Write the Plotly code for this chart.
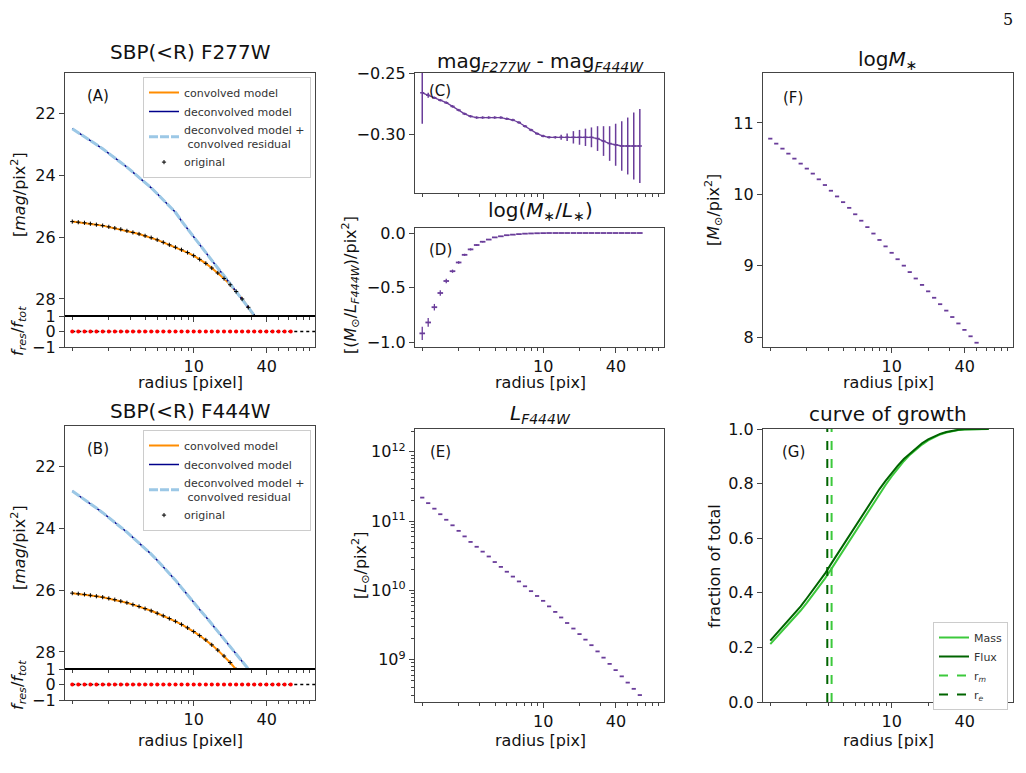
import plotly.graph_objects as go

# ---------------- data ----------------
radius = [1.0, 1.12, 1.26, 1.41, 1.58, 1.78, 2.0, 2.24, 2.51, 2.82, 3.16, 3.55, 3.98, 4.47, 5.01,
          5.62, 6.31, 7.08, 7.94, 8.91, 10.0, 11.2, 12.6, 14.1, 15.8, 17.8, 20.0, 22.4, 25.1, 28.2,
          31.6, 35.5, 39.8, 44.7, 50.1, 56.2, 63.1]

a_conv = [25.50, 25.52, 25.54, 25.57, 25.60, 25.63, 25.67, 25.71, 25.75, 25.80, 25.85, 25.90, 25.96,
          26.02, 26.09, 26.17, 26.25, 26.33, 26.41, 26.50, 26.60, 26.72, 26.85, 27.00, 27.16, 27.34,
          27.54, 27.76, 28.00, 28.27, 28.56, 28.87, 29.20, 29.55, 29.92, 30.30, 30.70]
a_deconv = [22.50, 22.62, 22.75, 22.88, 23.01, 23.15, 23.29, 23.44, 23.59, 23.74, 23.90, 24.06, 24.23,
            24.41, 24.60, 24.80, 25.00, 25.20, 25.48, 25.74, 26.00, 26.25, 26.50, 26.75, 27.00, 27.25,
            27.50, 27.75, 28.00, 28.25, 28.50, 28.75, 29.00, 29.30, 29.60, 29.90, 30.20]
b_conv = [26.10, 26.12, 26.14, 26.17, 26.20, 26.23, 26.27, 26.31, 26.36, 26.41, 26.47, 26.53, 26.60,
          26.67, 26.75, 26.83, 26.92, 27.01, 27.11, 27.22, 27.34, 27.47, 27.61, 27.77, 27.94, 28.13,
          28.34, 28.57, 28.82, 29.10, 29.40, 29.70, 30.00, 30.30, 30.60, 30.90, 31.20]
b_deconv = [22.80, 22.93, 23.07, 23.21, 23.35, 23.50, 23.65, 23.81, 23.97, 24.13, 24.30, 24.47, 24.65,
            24.84, 25.04, 25.25, 25.46, 25.68, 25.92, 26.17, 26.40, 26.63, 26.86, 27.09, 27.32, 27.55,
            27.78, 28.02, 28.26, 28.50, 28.75, 29.00, 29.25, 29.50, 29.75, 30.00, 30.25]
residual = [0.0] * 37

color_diff = [-0.266, -0.268, -0.270, -0.272, -0.274, -0.277, -0.280, -0.283, -0.285, -0.286, -0.286,
              -0.286, -0.286, -0.286, -0.287, -0.288, -0.290, -0.293, -0.296, -0.299, -0.301, -0.302,
              -0.302, -0.302, -0.302, -0.302, -0.302, -0.302, -0.302, -0.303, -0.305, -0.307, -0.308,
              -0.309, -0.309, -0.309, -0.309]
color_err = [0.025, 0.002, 0.001, 0.001, 0.001, 0.001, 0.001, 0.001, 0.001, 0.001, 0.001, 0.001, 0.001,
             0.001, 0.001, 0.001, 0.001, 0.001, 0.001, 0.001, 0.001, 0.001, 0.001, 0.002, 0.003, 0.005,
             0.006, 0.007, 0.008, 0.010, 0.012, 0.014, 0.017, 0.020, 0.023, 0.027, 0.030]

log_ml = [-0.92, -0.82, -0.68, -0.55, -0.44, -0.35, -0.27, -0.20, -0.15, -0.11, -0.08, -0.06, -0.04,
          -0.03, -0.02, -0.015, -0.01, -0.006, -0.004, -0.002, -0.001, 0, 0, 0, 0, 0, 0, 0, 0, 0, 0,
          0, 0, 0, 0, 0, 0]
log_ml_err = [0.06, 0.04, 0.03, 0.025, 0.02, 0.015, 0.012, 0.01, 0.01, 0.008, 0.006, 0.005, 0.004,
              0.003, 0.002, 0.002, 0.001, 0.001, 0.001, 0.001, 0, 0, 0, 0, 0, 0, 0, 0, 0, 0, 0, 0, 0,
              0, 0, 0, 0]

log_lum = [11.34, 11.26, 11.18, 11.10, 11.02, 10.94, 10.86, 10.78, 10.70, 10.63, 10.56, 10.49, 10.41,
           10.34, 10.27, 10.20, 10.13, 10.06, 9.99, 9.92, 9.85, 9.77, 9.69, 9.61, 9.53, 9.45, 9.37,
           9.29, 9.21, 9.12, 9.03, 8.94, 8.85, 8.76, 8.67, 8.58, 8.49]

log_mass = [10.78, 10.71, 10.64, 10.57, 10.50, 10.43, 10.36, 10.29, 10.21, 10.13, 10.05, 9.97, 9.89,
            9.81, 9.72, 9.63, 9.54, 9.45, 9.36, 9.27, 9.18, 9.09, 9.00, 8.91, 8.82, 8.73, 8.64, 8.55,
            8.46, 8.37, 8.28, 8.19, 8.10, 8.01, 7.92, 7.83, 7.74]

cog_flux = [0.225, 0.25, 0.275, 0.30, 0.325, 0.35, 0.38, 0.41, 0.44, 0.47, 0.505, 0.54, 0.575, 0.61,
            0.645, 0.68, 0.715, 0.75, 0.78, 0.81, 0.84, 0.865, 0.89, 0.91, 0.93, 0.948, 0.962, 0.973,
            0.982, 0.989, 0.994, 0.997, 0.999, 1.0, 1.0, 1.0, 1.0]
cog_mass = [0.212, 0.236, 0.26, 0.285, 0.31, 0.335, 0.363, 0.392, 0.422, 0.452, 0.485, 0.52, 0.555,
            0.59, 0.625, 0.66, 0.695, 0.73, 0.762, 0.795, 0.826, 0.855, 0.882, 0.905, 0.925, 0.943,
            0.958, 0.97, 0.98, 0.987, 0.992, 0.996, 0.998, 0.999, 1.0, 1.0, 1.0]
r_m = 3.2
r_e = 2.95

x_ticks = [10, 40]
x_minor = [1, 2, 3, 4, 5, 6, 7, 8, 9, 20, 30, 50, 60, 70, 80, 90]
x_range_log = [-0.06, 2.0]
lum_ticks = [1e9, 1e10, 1e11, 1e12]
lum_minor = [3e8, 4e8, 5e8, 6e8, 7e8, 8e8, 9e8, 2e9, 3e9, 4e9, 5e9, 6e9, 7e9, 8e9, 9e9,
             2e10, 3e10, 4e10, 5e10, 6e10, 7e10, 8e10, 9e10, 2e11, 3e11, 4e11, 5e11, 6e11, 7e11,
             8e11, 9e11, 2e12]

# ---------------- layout helpers ----------------
W, H = 1026, 773
OX, OY = 8, 8   # page body offset of the rendered figure
FONT = "DejaVu Sans"
PURPLE = "#6a3d9a"
fig = go.Figure()

def dom_x(a, b): return [(a - OX) / W, (b - OX) / W]
def dom_y(top, bot): return [1 - (bot - OY) / H, 1 - (top - OY) / H]

axes = {
    1: ((65, 315), (73, 316)),    # A main
    2: ((65, 315), (316, 347)),   # A residual
    3: ((415, 664), (73, 193)),   # C
    4: ((415, 664), (228, 347)),  # D
    5: ((763, 1013), (73, 347)),  # F
    6: ((65, 315), (426, 669)),   # B main
    7: ((65, 315), (669, 700)),   # B residual
    8: ((415, 664), (429, 702)),  # E
    9: ((763, 1013), (429, 702)), # G
}
show_xlabels = {1: False, 2: True, 3: False, 4: True, 5: True, 6: False, 7: True, 8: True, 9: True}

common = dict(showline=True, linecolor="#444", linewidth=1.3, mirror=True, ticks="outside",
              ticklen=5, tickcolor="#444", showgrid=False, zeroline=False,
              tickfont=dict(family=FONT, size=16, color="#111"))
for i, ((x0, x1), (y0, y1)) in axes.items():
    xs = "" if i == 1 else str(i)
    fig.layout["xaxis" + xs] = dict(common, domain=dom_x(x0, x1), anchor="y" + xs, type="log",
                                   range=x_range_log, tickvals=x_ticks,
                                   showticklabels=show_xlabels[i],
                                   minor=dict(tickvals=x_minor, ticks="outside", ticklen=3,
                                              tickcolor="#444"))
    fig.layout["yaxis" + xs] = dict(common, domain=dom_y(y0, y1), anchor="x" + xs)

def xy(i):
    s = "" if i == 1 else str(i)
    return dict(xaxis="x" + s, yaxis="y" + s)

# ----- A and B -----
for (main, res, conv, deconv, leg) in [(1, 2, a_conv, a_deconv, "legend"),
                                        (6, 7, b_conv, b_deconv, "legend2")]:
    fig.add_trace(go.Scatter(x=radius, y=conv, mode="lines", line=dict(color="darkorange", width=2),
                             name="convolved model", legend=leg, **xy(main)))
    fig.add_trace(go.Scatter(x=radius, y=deconv, mode="lines", line=dict(color="#00008b", width=1.5),
                             name="deconvolved model", legend=leg, **xy(main)))
    fig.add_trace(go.Scatter(x=radius, y=deconv, mode="lines",
                             line=dict(color="#9cc8e6", width=3, dash="9px,2px"),
                             name="deconvolved model +<br> convolved residual", legend=leg, **xy(main)))
    fig.add_trace(go.Scatter(x=radius, y=conv, mode="markers",
                             marker=dict(symbol="cross-thin", size=3, line=dict(color="black", width=1),
                                         color="black"),
                             name="original", legend=leg, **xy(main)))
    fig.add_trace(go.Scatter(x=[radius[0], 100], y=[0, 0], mode="lines",
                             line=dict(color="black", width=1.3, dash="dot"), showlegend=False, **xy(res)))
    fig.add_trace(go.Scatter(x=radius, y=residual, mode="markers",
                             marker=dict(color="red", size=4), showlegend=False, **xy(res)))
    s = str(main) if main != 1 else ""
    fig.layout["yaxis" + s].update(range=[28.55, 20.7], tickvals=[22, 24, 26, 28])
    fig.layout["yaxis" + str(res)].update(range=[-1, 1], tickvals=[-1, 0, 1], ticktext=["−1", "0", "1"])
    fig.add_shape(type="line", xref="paper", yref="paper",
                  x0=(axes[main][0][0] - OX) / W, x1=(axes[main][0][1] - OX) / W,
                  y0=1 - (axes[main][1][1] - OY) / H, y1=1 - (axes[main][1][1] - OY) / H,
                  line=dict(color="black", width=2.2))

# ----- C -----
fig.add_trace(go.Scatter(x=radius, y=color_diff, mode="lines+markers",
                         line=dict(color=PURPLE, width=1.3),
                         marker=dict(symbol="line-ew", size=3, line=dict(color=PURPLE, width=1.5)),
                         error_y=dict(type="data", array=color_err, color=PURPLE, thickness=1.5, width=0),
                         showlegend=False, **xy(3)))
fig.layout.yaxis3.update(range=[-0.347, -0.25], tickvals=[-0.25, -0.30], ticktext=["−0.25", "−0.30"])

# ----- D -----
fig.add_trace(go.Scatter(x=radius, y=log_ml, mode="markers",
                         marker=dict(symbol="line-ew", size=4, line=dict(color=PURPLE, width=1.8)),
                         error_y=dict(type="data", array=log_ml_err, color=PURPLE, thickness=1.3, width=0),
                         showlegend=False, **xy(4)))
fig.layout.yaxis4.update(range=[-1.045, 0.046], tickvals=[0, -0.5, -1.0], ticktext=["0.0", "−0.5", "−1.0"])

# ----- F -----
fig.add_trace(go.Scatter(x=radius, y=log_mass, mode="markers",
                         marker=dict(symbol="line-ew", size=3, line=dict(color=PURPLE, width=1.8)),
                         showlegend=False, **xy(5)))
fig.layout.yaxis5.update(range=[7.86, 11.7], tickvals=[8, 9, 10, 11])

# ----- E -----
fig.add_trace(go.Scatter(x=radius, y=[10 ** v for v in log_lum], mode="markers",
                         marker=dict(symbol="line-ew", size=3, line=dict(color=PURPLE, width=1.8)),
                         showlegend=False, **xy(8)))
fig.layout.yaxis8.update(type="log", range=[8.39, 12.33], tickvals=lum_ticks,
                         ticktext=["10<sup>9</sup>", "10<sup>10</sup>", "10<sup>11</sup>", "10<sup>12</sup>"],
                         minor=dict(tickvals=lum_minor, ticks="outside", ticklen=3, tickcolor="#444"))

# ----- G -----
fig.add_trace(go.Scatter(x=radius, y=cog_mass, mode="lines", line=dict(color="#3cc93c", width=2),
                         name="Mass", legend="legend3", **xy(9)))
fig.add_trace(go.Scatter(x=radius, y=cog_flux, mode="lines", line=dict(color="#006400", width=2),
                         name="Flux", legend="legend3", **xy(9)))
fig.add_trace(go.Scatter(x=[r_m, r_m], y=[0, 1], mode="lines",
                         line=dict(color="#3cc93c", width=2, dash="dash"),
                         name="r<sub><i>m</i></sub>", legend="legend3", **xy(9)))
fig.add_trace(go.Scatter(x=[r_e, r_e], y=[0, 1], mode="lines",
                         line=dict(color="#006400", width=2, dash="dash"),
                         name="r<sub><i>e</i></sub>", legend="legend3", **xy(9)))
fig.layout.yaxis9.update(range=[0, 1], tickvals=[0, 0.2, 0.4, 0.6, 0.8, 1.0],
                         ticktext=["0.0", "0.2", "0.4", "0.6", "0.8", "1.0"])

# ----- text -----
def ann(x, y, text, size=16, angle=0, family=FONT, xanchor="center"):
    fig.add_annotation(x=(x - OX) / W, y=1 - (y - OY) / H, xref="paper", yref="paper", text=text,
                       showarrow=False, font=dict(family=family, size=size, color="#111"),
                       textangle=angle, xanchor=xanchor, yanchor="middle")

titles = [(190, 52, "SBP(&lt;R) F277W"), (540, 62, "mag<sub><i>F277W</i></sub> - mag<sub><i>F444W</i></sub>"),
          (540, 211, "log(<i>M</i><sub>∗</sub>/<i>L</i><sub>∗</sub>)"), (888, 60, "log<i>M</i><sub>∗</sub>"),
          (190, 411, "SBP(&lt;R) F444W"), (540, 414, "<i>L<sub>F444W</sub></i>"),
          (888, 414, "curve of growth")]
for x, y, t in titles:
    ann(x, y, t, size=20)

for x, y, t in [(98, 96, "(A)"), (98, 449, "(B)"), (440, 91, "(C)"), (440, 250, "(D)"),
                (440, 452, "(E)"), (793, 98, "(F)"), (793, 452, "(G)")]:
    ann(x, y, t, size=15)

for x, y, t in [(190, 382, "radius [pixel]"), (190, 740, "radius [pixel]"), (540, 382, "radius [pix]"),
                (888, 382, "radius [pix]"), (540, 740, "radius [pix]"), (888, 740, "radius [pix]")]:
    ann(x, y, t, size=16)

ann(18, 195, "[<i>mag</i>/pix<sup>2</sup>]", angle=-90)
ann(18, 548, "[<i>mag</i>/pix<sup>2</sup>]", angle=-90)
ann(18, 331, "<i>f<sub>res</sub></i>/<i>f<sub>tot</sub></i>", angle=-90)
ann(18, 685, "<i>f<sub>res</sub></i>/<i>f<sub>tot</sub></i>", angle=-90)
ann(350, 285, "[(<i>M</i><sub>⊙</sub>/<i>L<sub>F444W</sub></i>)/pix<sup>2</sup>]", angle=-90)
ann(714, 210, "[<i>M</i><sub>⊙</sub>/pix<sup>2</sup>]", angle=-90)
ann(360, 566, "[<i>L</i><sub>⊙</sub>/pix<sup>2</sup>]", angle=-90)
ann(714, 566, "fraction of total", angle=-90)
ann(1008, 20, "5", size=16, family="DejaVu Serif")

leg_common = dict(bgcolor="white", bordercolor="#ccc", borderwidth=1,
                  font=dict(family=FONT, size=11, color="#333"), xanchor="right", yanchor="top",
                  tracegroupgap=0, itemwidth=30)
fig.update_layout(
    width=W, height=H, margin=dict(l=0, r=0, t=0, b=0, autoexpand=False),
    plot_bgcolor="white", paper_bgcolor="white",
    legend=dict(leg_common, x=(311 - OX) / W, y=1 - (77 - OY) / H),
    legend2=dict(leg_common, x=(311 - OX) / W, y=1 - (430 - OY) / H),
    legend3=dict(leg_common, x=(1008 - OX) / W, y=1 - (622 - OY) / H),
)
fig.write_html("out.html")
